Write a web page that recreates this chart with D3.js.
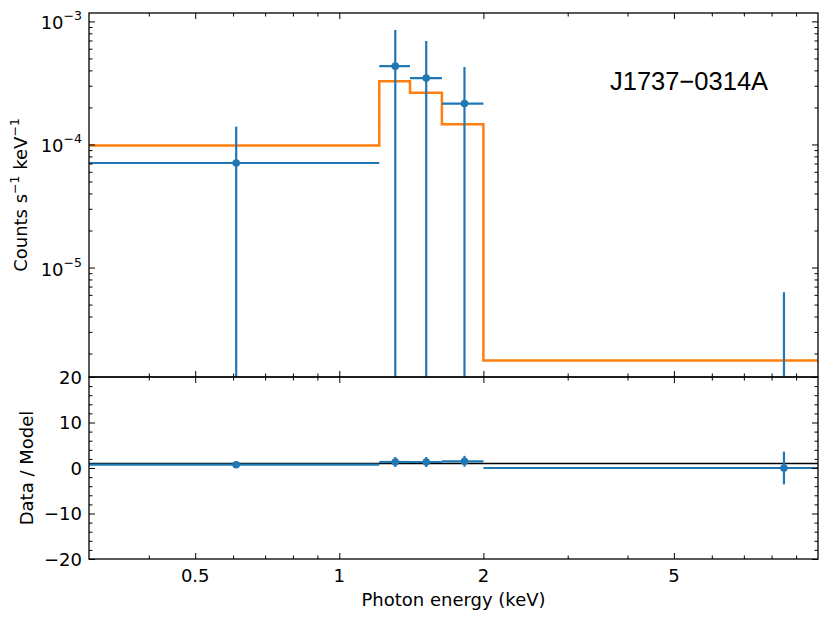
<!DOCTYPE html>
<html>
<head>
<meta charset="utf-8">
<script src="https://cdn.jsdelivr.net/npm/d3@7"></script>
<style>
body { margin: 0; background: #fff; }
text { font-family: "DejaVu Sans", sans-serif; }
</style>
</head>
<body>
<div id="chart"></div>
<script>
// energy bins (keV), data and model
var binLo = [0.3, 1.212, 1.405, 1.638, 2.0];
var binHi = [1.212, 1.405, 1.638, 2.0, 10];
var energy = [0.609, 1.309, 1.519, 1.826, 8.49];
var rate = [7.07e-5, 4.33e-4, 3.46e-4, 2.15e-4, 0];
var rateErrHi = [6.9e-5, 4.17e-4, 3.46e-4, 2.12e-4, 6.3e-6];
var rateErrLo = [7.07e-5, 4.33e-4, 3.46e-4, 2.15e-4, 6.3e-6];
var model = [9.8e-5, 3.27e-4, 2.63e-4, 1.46e-4, 1.76e-6];
var ratio = [0.72, 1.32, 1.32, 1.47, 0];
var ratioErr = [0.7, 1.1, 1.1, 1.2, 3.6];

var xTicks = [0.5, 1, 2, 5];
var xMinor = [0.4, 0.6, 0.7, 0.8, 0.9, 3, 4, 6, 7, 8, 9];
var yTicksTop = [1e-5, 1e-4, 1e-3];
var yTicksBottom = [-20, -10, 0, 10, 20];
var yMinorBottom = [-18, -16, -14, -12, -8, -6, -4, -2, 2, 4, 6, 8, 12, 14, 16, 18];
var title = "J1737\u22120314A";

var svgWidth = 830, svgHeight = 619;
var pLeft = 89, pRight = 818, pTop = 13, pMid = 377, pBottom = 559;
var blue = "#1f77b4", orange = "#ff7f0e";
var fs = 18;

var svg = d3.select("#chart").append("svg")
    .attr("width", svgWidth)
    .attr("height", svgHeight);

var x = d3.scaleLog().domain([0.3, 10]).range([pLeft, pRight]);
var yTop = d3.scaleLog().domain([1.29e-6, 1.17e-3]).range([pMid, pTop]);
var yBot = d3.scaleLinear().domain([-20, 20]).range([pBottom, pMid]);

// log minors for the top panel
var yMinorTop = [];
[1e-6, 1e-5, 1e-4].forEach(function(dec) {
    for (var m = 2; m <= 9; m++) {
        var v = m * dec;
        if (v > yTop.domain()[0] && v < yTop.domain()[1]) yMinorTop.push(v);
    }
});

var defs = svg.append("defs");
defs.append("clipPath").attr("id", "clipTop")
    .append("rect").attr("x", pLeft).attr("y", pTop)
    .attr("width", pRight - pLeft).attr("height", pMid - pTop);
defs.append("clipPath").attr("id", "clipBot")
    .append("rect").attr("x", pLeft).attr("y", pMid)
    .attr("width", pRight - pLeft).attr("height", pBottom - pMid);

function drawTicks(axis, tr, values, size) {
    svg.append("g")
        .attr("transform", tr)
        .call(axis.tickValues(values).tickSize(size).tickFormat(""))
        .call(function(g) { g.select(".domain").remove(); });
}

// ---- top panel ----
var topG = svg.append("g").attr("clip-path", "url(#clipTop)");

// model step line
var stepPts = [];
model.forEach(function(m, i) {
    stepPts.push([binLo[i], m]);
    stepPts.push([binHi[i], m]);
});
topG.append("path")
    .datum(stepPts)
    .attr("fill", "none")
    .attr("stroke", orange)
    .attr("stroke-width", 2.5)
    .attr("d", d3.line().x(d => x(d[0])).y(d => yTop(d[1])));

var ymin = yTop.domain()[0];
energy.forEach(function(e, i) {
    var lo = rate[i] - rateErrLo[i];
    var y1 = lo > ymin ? yTop(lo) : pMid + 5;
    topG.append("line")
        .attr("x1", x(e)).attr("x2", x(e))
        .attr("y1", y1).attr("y2", yTop(rate[i] + rateErrHi[i]))
        .attr("stroke", blue).attr("stroke-width", 2.2);
    if (rate[i] > 0) {
        topG.append("line")
            .attr("x1", x(binLo[i])).attr("x2", x(binHi[i]))
            .attr("y1", yTop(rate[i])).attr("y2", yTop(rate[i]))
            .attr("stroke", blue).attr("stroke-width", 2.2);
        topG.append("circle")
            .attr("cx", x(e)).attr("cy", yTop(rate[i]))
            .attr("r", 3.8).attr("fill", blue);
    }
});

// ---- bottom panel ----
var botG = svg.append("g").attr("clip-path", "url(#clipBot)");
botG.append("line")
    .attr("x1", pLeft).attr("x2", pRight)
    .attr("y1", yBot(1)).attr("y2", yBot(1))
    .attr("stroke", "black").attr("stroke-width", 1.5);

energy.forEach(function(e, i) {
    botG.append("line")
        .attr("x1", x(binLo[i])).attr("x2", x(binHi[i]))
        .attr("y1", yBot(ratio[i])).attr("y2", yBot(ratio[i]))
        .attr("stroke", blue).attr("stroke-width", 2.2);
    botG.append("line")
        .attr("x1", x(e)).attr("x2", x(e))
        .attr("y1", yBot(ratio[i] - ratioErr[i])).attr("y2", yBot(ratio[i] + ratioErr[i]))
        .attr("stroke", blue).attr("stroke-width", 2.2);
    botG.append("circle")
        .attr("cx", x(e)).attr("cy", yBot(ratio[i]))
        .attr("r", 3.8).attr("fill", blue);
});

// ---- ticks (all inward) ----
[[pMid, d3.axisBottom], [pBottom, d3.axisBottom], [pTop, d3.axisTop], [pMid, d3.axisTop]].forEach(function(t) {
    drawTicks(t[1](x), "translate(0," + t[0] + ")", xTicks, -6);
    drawTicks(t[1](x), "translate(0," + t[0] + ")", xMinor, -3.5);
});
drawTicks(d3.axisLeft(yTop), "translate(" + pLeft + ",0)", yTicksTop, -6);
drawTicks(d3.axisLeft(yTop), "translate(" + pLeft + ",0)", yMinorTop, -3.5);
drawTicks(d3.axisRight(yTop), "translate(" + pRight + ",0)", yTicksTop, -6);
drawTicks(d3.axisRight(yTop), "translate(" + pRight + ",0)", yMinorTop, -3.5);
drawTicks(d3.axisLeft(yBot), "translate(" + pLeft + ",0)", yTicksBottom, -6);
drawTicks(d3.axisLeft(yBot), "translate(" + pLeft + ",0)", yMinorBottom, -3.5);
drawTicks(d3.axisRight(yBot), "translate(" + pRight + ",0)", yTicksBottom, -6);
drawTicks(d3.axisRight(yBot), "translate(" + pRight + ",0)", yMinorBottom, -3.5);
svg.selectAll(".tick line").attr("stroke-width", 1);

// tick labels
svg.append("g").selectAll("text")
    .data(xTicks).enter().append("text")
    .attr("x", d => x(d)).attr("y", 582)
    .attr("text-anchor", "middle")
    .attr("font-size", fs)
    .text(d => d);

var yLab = svg.append("g").selectAll("text")
    .data(yTicksTop).enter().append("text")
    .attr("x", 82).attr("y", d => yTop(d) + 8)
    .attr("text-anchor", "end")
    .attr("font-size", fs);
yLab.append("tspan").text("10");
yLab.append("tspan")
    .attr("dy", -9).attr("font-size", 12.5)
    .text(d => "\u2212" + Math.round(-Math.log10(d)));

svg.append("g").selectAll("text")
    .data(yTicksBottom).enter().append("text")
    .attr("x", 82).attr("y", d => yBot(d) + 6.5)
    .attr("text-anchor", "end")
    .attr("font-size", fs)
    .text(d => d < 0 ? "\u2212" + (-d) : d);

// frames
[[pTop, pMid], [pMid, pBottom]].forEach(function(p) {
    svg.append("rect")
        .attr("x", pLeft).attr("y", p[0])
        .attr("width", pRight - pLeft).attr("height", p[1] - p[0])
        .attr("fill", "none").attr("stroke", "black").attr("stroke-width", 1.3);
});

// axis titles
svg.append("text")
    .attr("x", (pLeft + pRight) / 2).attr("y", 606)
    .attr("text-anchor", "middle").attr("font-size", fs)
    .text("Photon energy (keV)");

var cl = svg.append("text")
    .attr("transform", "translate(27," + ((pTop + pMid) / 2) + ") rotate(-90)")
    .attr("text-anchor", "middle").attr("font-size", fs);
cl.append("tspan").text("Counts s");
cl.append("tspan").attr("dy", -8).attr("font-size", 12.5).text("\u22121");
cl.append("tspan").attr("dy", 8).text(" keV");
cl.append("tspan").attr("dy", -8).attr("font-size", 12.5).text("\u22121");

svg.append("text")
    .attr("transform", "translate(33," + ((pMid + pBottom) / 2) + ") rotate(-90)")
    .attr("text-anchor", "middle").attr("font-size", fs)
    .text("Data / Model");

svg.append("text")
    .attr("x", 610).attr("y", 90)
    .style("font-family", "'Liberation Sans', Arial, sans-serif")
    .attr("font-size", 25.5)
    .text(title);
</script>
</body>
</html>
